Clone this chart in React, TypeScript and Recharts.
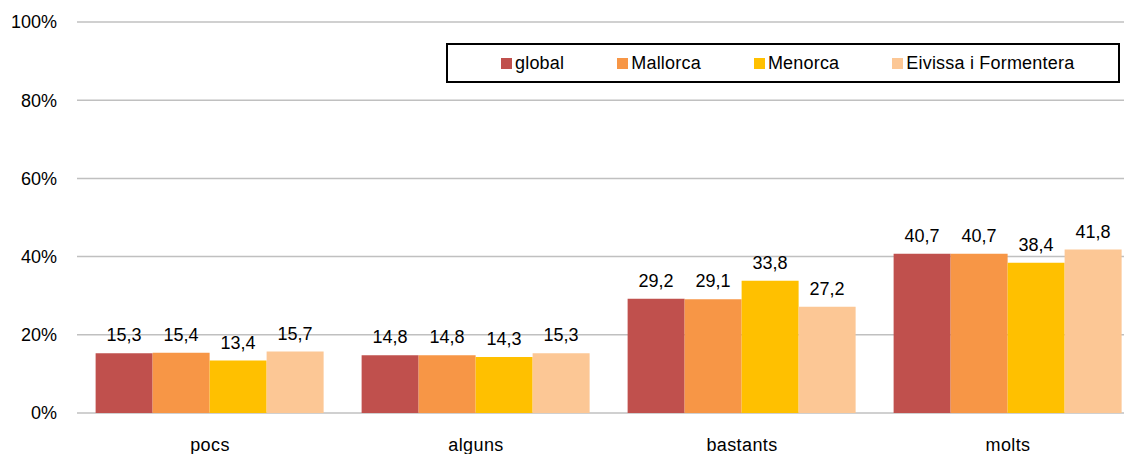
import { BarChart, Bar, XAxis, YAxis, CartesianGrid, Legend, LabelList } from 'recharts';

const categories = ['pocs', 'alguns', 'bastants', 'molts'];
const globalValues = [15.3, 14.8, 29.2, 40.7];
const mallorcaValues = [15.4, 14.8, 29.1, 40.7];
const menorcaValues = [13.4, 14.3, 33.8, 38.4];
const eivissaValues = [15.7, 15.3, 27.2, 41.8];
const yTicks = [0, 20, 40, 60, 80, 100];

const series = [
    { key: 'global', name: 'global', color: '#C0504D' },
    { key: 'mallorca', name: 'Mallorca', color: '#F79646' },
    { key: 'menorca', name: 'Menorca', color: '#FFC000' },
    { key: 'eivissa', name: 'Eivissa i Formentera', color: '#FCC795' },
];

const data = categories.map((name, i) => ({
    name,
    global: globalValues[i],
    mallorca: mallorcaValues[i],
    menorca: menorcaValues[i],
    eivissa: eivissaValues[i],
}));

const font = '"Liberation Sans", Arial, sans-serif';

// comma decimals, like the original
const fmt = (v: any) => Number(v).toFixed(1).replace('.', ',');

function LegendBox() {
    return (
        <div style={{
            boxSizing: 'border-box', width: 674, height: 40, border: '2px solid #000',
            display: 'flex', alignItems: 'center', paddingLeft: 53, gap: 53,
            fontFamily: font, fontSize: 18, letterSpacing: 0.2, color: '#000', background: '#fff',
        }}>
            {series.map((s) => (
                <div key={s.key} style={{ display: 'flex', alignItems: 'center' }}>
                    <span style={{ width: 11, height: 11, background: s.color, marginRight: 3, display: 'inline-block' }} />
                    <span>{s.name}</span>
                </div>
            ))}
        </div>
    );
}

function App() {
    return (
        <div style={{ position: 'fixed', left: 0, top: 0, width: 1124, height: 454, overflow: 'hidden', background: '#fff' }}>
            <BarChart
                width={1141}
                height={454}
                data={data}
                margin={{ top: 22, right: 0, left: 0, bottom: 0 }}
                barCategoryGap="7%"
                barGap={0}
                style={{ fontFamily: font }}
            >
                <CartesianGrid vertical={false} stroke="#C0C0C0" strokeWidth={1.5} />
                <XAxis
                    dataKey="name"
                    height={41}
                    axisLine={false}
                    tickLine={false}
                    tickSize={0}
                    tickMargin={25}
                    tick={{ fill: '#000', fontSize: 18, letterSpacing: 0.4 }}
                />
                <YAxis
                    domain={[0, 100]}
                    ticks={yTicks}
                    width={77}
                    axisLine={false}
                    tickLine={false}
                    tickSize={0}
                    tickMargin={20}
                    tickFormatter={(v) => `${v}%`}
                    tick={{ fill: '#000', fontSize: 18 }}
                />
                <Legend
                    layout="horizontal"
                    verticalAlign="middle"
                    align="center"
                    content={() => <LegendBox />}
                    wrapperStyle={{ position: 'absolute', top: 43, left: 446, width: 674, height: 40 }}
                />
                {series.map((s) => (
                    <Bar key={s.key} dataKey={s.key} name={s.name} fill={s.color} isAnimationActive={false}>
                        <LabelList dataKey={s.key} position="top" offset={12} formatter={fmt} fill="#000" fontSize={18} />
                    </Bar>
                ))}
            </BarChart>
        </div>
    );
}

export default App;
